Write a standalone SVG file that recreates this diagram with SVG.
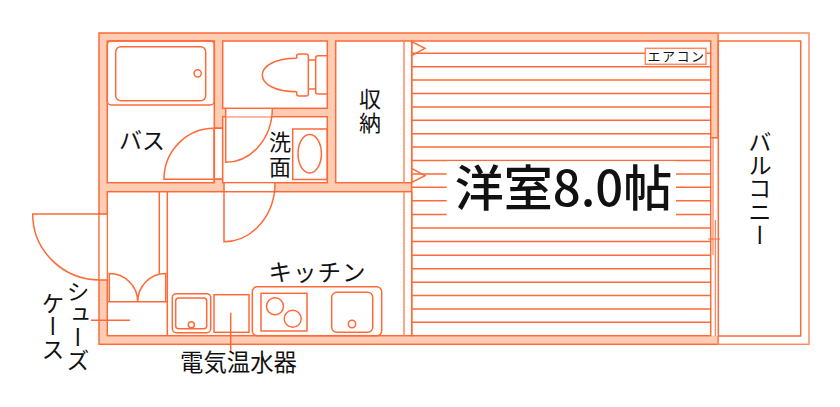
<svg xmlns="http://www.w3.org/2000/svg" width="840" height="407" viewBox="0 0 840 407">
<style>
.s{fill:none;stroke:#ff6a38;stroke-width:1.5}
.w{fill:#fff;stroke:#ff6a38;stroke-width:1.5}
.t{font-family:"Noto Sans CJK JP","Noto Sans",sans-serif;fill:#111;text-anchor:middle}
.v{font-family:"Noto Sans CJK JP","Noto Sans",sans-serif;fill:#111;writing-mode:vertical-rl;text-anchor:start}
</style>
<rect width="840" height="407" fill="#fff"/>
<g id="walls">
<rect x="99" y="33" width="619.3" height="311.3" fill="#ffcdb4" stroke="#ff6a38" stroke-width="1.5"/>
<rect x="718.3" y="33" width="90.7" height="311.3" fill="#fff" stroke="#ff8a60" stroke-width="1.5"/>
<rect class="w" x="718.3" y="41" width="82.4" height="295"/>
<rect x="710.7" y="137.7" width="7.6" height="198.3" fill="#fff"/>
</g>
<g id="floor">
<rect class="w" x="411.7" y="41" width="299" height="294.7"/>
<path class="s" d="M411.7 53.3H710.7M411.7 66.7H710.7M411.7 80.1H710.7M411.7 93.5H710.7M411.7 106.9H710.7M411.7 120.3H710.7M411.7 133.7H710.7M411.7 147.1H710.7M411.7 160.5H710.7M411.7 173.9H710.7M411.7 187.3H710.7M411.7 200.7H710.7M411.7 214.4H710.7M411.7 228H710.7M411.7 241.6H710.7M411.7 255.2H710.7M411.7 268.7H710.7M411.7 282.2H710.7M411.7 295.4H710.7M411.7 309H710.7M411.7 322.3H710.7"/>
<rect x="446.7" y="161.2" width="229.3" height="60" fill="#fff"/>
<path class="s" d="M411.7 41.7L425 48.3L411.7 55.7M411.7 168.3L425 175.7L411.7 182.3"/>
</g>
<g id="window">
<path class="s" d="M710.7 137.7H718.3M718.3 137.7V336" />
<path d="M713 138V255M715.3 220V336M708 239H720" fill="none" stroke="#ff6a38" stroke-width="1"/>
</g>
<g id="bath">
<rect class="w" x="107.3" y="41" width="107" height="141.7"/>
<rect class="s" x="107.3" y="41" width="107" height="64" rx="4"/>
<rect class="s" x="115.7" y="46.7" width="90" height="54" rx="5"/>
<circle class="s" cx="197.7" cy="73.3" r="3.6"/>
<path class="w" d="M222.7 128.3H214.3V179.3H222.7Z" stroke="none"/>
<path class="s" d="M222.7 128.3H214.3A50 51 0 0 0 164 179.3H222.7"/>
<path class="s" d="M214.3 128.3V182.7"/>
</g>
<g id="toilet">
<rect class="w" x="222.7" y="41" width="104.6" height="67.3"/>
<path class="s" d="M296.7 58.3C275 58.3 262.3 66 262.3 75C262.3 84 275 91.7 296.7 91.7"/>
<path class="s" d="M296.7 58.3V56Q296.7 54 299 54H306Q308.3 54 308.3 56V94Q308.3 96 306 96H299Q296.7 96 296.7 94V91.7"/>
<path class="s" d="M308.3 60H315.7M308.3 89H315.7"/>
<path class="s" d="M327.3 55.7H318Q315.7 55.7 315.7 58V92Q315.7 94 318 94H327.3"/>
</g>
<g id="wash">
<rect class="w" x="222.7" y="116.7" width="104.6" height="66"/>
<rect x="225.7" y="109" width="46.6" height="7.5" fill="#fff"/>
<path class="s" d="M225.7 108.3V162.3A46.6 54 0 0 0 272.3 108.3"/>
<rect class="s" x="292.7" y="129" width="34.6" height="50.5"/>
<ellipse class="s" cx="309.7" cy="153.7" rx="11.7" ry="19.2"/>
</g>
<g id="closet">
<rect class="w" x="335.7" y="41" width="76" height="141.7"/>
<path d="M404 41V182.7" fill="none" stroke="#ff8a60" stroke-width="1.5"/>
</g>
<g id="kitchen">
<rect class="w" x="107.3" y="191.7" width="304.4" height="144"/>
<rect x="224.5" y="183.5" width="50" height="7.5" fill="#fff"/>
<path class="s" d="M224 183V241.7A51 58.7 0 0 0 275 183"/>
<path d="M404 191.7V335.7" fill="none" stroke="#ff8a60" stroke-width="1.5"/>
<rect x="99.8" y="214.7" width="6.8" height="65.3" fill="#fff"/>
<path class="s" d="M107.3 214H32.7A67.5 66 0 0 0 100 280H107.3"/>
<path class="s" d="M159.3 191.7V273.5M167.3 191.7V335.7M107.3 301.7H167.3"/>
<path class="s" d="M109.3 301.7V273.5A28.4 28.2 0 0 1 137.7 301.7A28 28.2 0 0 1 165.7 273.5V301.7"/>
<rect class="s" x="172.3" y="293.7" width="38.4" height="39" rx="4"/>
<rect class="s" x="175.7" y="298" width="31" height="30.7" rx="3"/>
<circle class="s" cx="191.3" cy="324.7" r="3"/>
<rect class="s" x="214" y="294.7" width="35" height="37.6"/>
<rect class="s" x="252.3" y="286.7" width="129.4" height="49" rx="5"/>
<rect class="s" x="261" y="293.3" width="46" height="37.7"/>
<circle class="s" cx="275" cy="306.3" r="8.5"/>
<circle class="s" cx="292.7" cy="318.7" r="8.5"/>
<rect class="s" x="331.7" y="292.3" width="41" height="40" rx="5"/>
<circle class="s" cx="352" cy="324" r="3.7"/>
</g>
<g id="leaders">
<path class="s" d="M230.7 312.7V351.7M91 320.3H130"/>
</g>
<g id="aircon">
<rect x="645.3" y="48.3" width="60.7" height="16" fill="#fff" stroke="#ff8a60" stroke-width="1.5"/>
<text class="t" x="676.5" y="61" font-size="13" letter-spacing="1.5">エアコン</text>
</g>
<g id="labels">
<text class="t" x="142" y="149" font-size="23">バス</text>
<text class="v" x="370" y="88" font-size="22" letter-spacing="1.5">収納</text>
<text class="v" x="280" y="131" font-size="22" letter-spacing="2.5">洗面</text>
<text class="t" x="563.5" y="206" font-size="49" font-weight="500">洋室8.0帖</text>
<text class="t" x="317.5" y="281" font-size="23.5" letter-spacing="1">キッチン</text>
<text class="t" x="238.5" y="371" font-size="23.4">電気温水器</text>
<text class="v" x="78" y="280" font-size="23">シューズ</text>
<text class="v" x="53" y="292" font-size="23">ケース</text>
<text class="v" x="760" y="130" font-size="23.4">バルコニー</text>
</g>
</svg>
